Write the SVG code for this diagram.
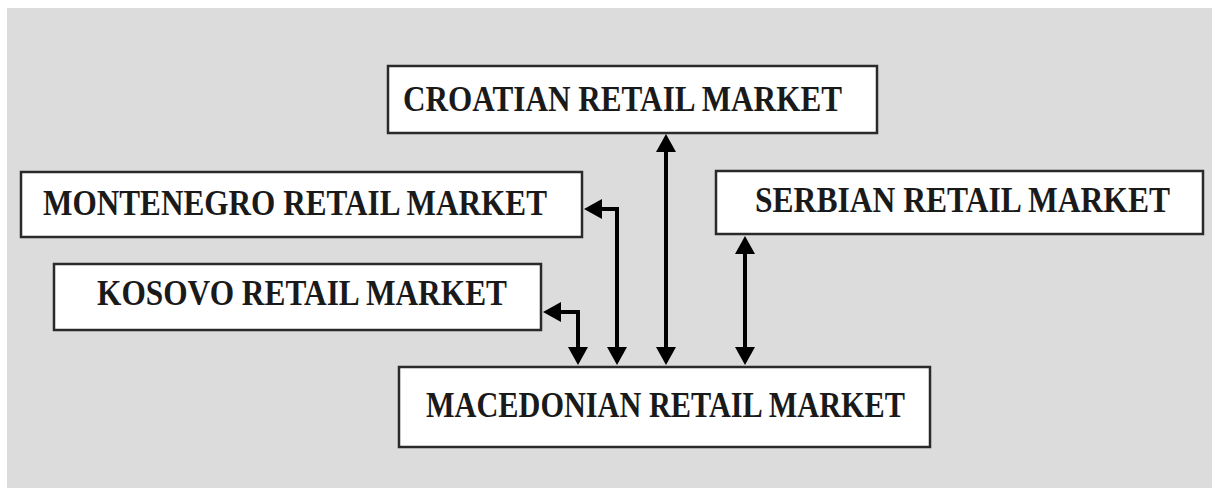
<svg xmlns="http://www.w3.org/2000/svg" width="1212" height="488" viewBox="0 0 1212 488">
  <style>
    .box { fill: #ffffff; stroke: #2a2a2a; stroke-width: 2.5; }
    .lbl { font-family: "Liberation Serif", "Times New Roman", serif; font-weight: bold; font-size: 35px; fill: #1a1a1a; }
    .conn { fill: none; stroke: #000000; stroke-width: 4; }
  </style>
  <defs>
    <marker id="ah" viewBox="0 0 18 20" refX="14" refY="10" markerWidth="18" markerHeight="20" markerUnits="userSpaceOnUse" orient="auto-start-reverse">
      <path d="M0,0 L18,10 L0,20 z" fill="#000000"/>
    </marker>
  </defs>
  <rect x="0" y="0" width="1212" height="488" fill="#ffffff"/>
  <rect x="7" y="8" width="1205" height="480" fill="#dcdcdc"/>

  <g id="croatian">
    <rect class="box" x="388" y="66" width="489" height="67"/>
    <text class="lbl" x="403" y="111" textLength="439" lengthAdjust="spacingAndGlyphs">CROATIAN RETAIL MARKET</text>
  </g>
  <g id="montenegro">
    <rect class="box" x="21" y="172" width="561" height="65"/>
    <text class="lbl" x="43" y="215" textLength="504" lengthAdjust="spacingAndGlyphs">MONTENEGRO RETAIL MARKET</text>
  </g>
  <g id="serbian">
    <rect class="box" x="716" y="171" width="487" height="63"/>
    <text class="lbl" x="755" y="212" textLength="415" lengthAdjust="spacingAndGlyphs">SERBIAN RETAIL MARKET</text>
  </g>
  <g id="kosovo">
    <rect class="box" x="54" y="264" width="487" height="66"/>
    <text class="lbl" x="97" y="305" textLength="410" lengthAdjust="spacingAndGlyphs">KOSOVO RETAIL MARKET</text>
  </g>
  <g id="macedonian">
    <rect class="box" x="399" y="367" width="531" height="80"/>
    <text class="lbl" x="426" y="417" textLength="479" lengthAdjust="spacingAndGlyphs">MACEDONIAN RETAIL MARKET</text>
  </g>

  <g id="connectors">
    <path class="conn" d="M666,138 V361" marker-start="url(#ah)" marker-end="url(#ah)"/>
    <path class="conn" d="M745,240 V361" marker-start="url(#ah)" marker-end="url(#ah)"/>
    <path class="conn" d="M588,209 H617 V361" marker-start="url(#ah)" marker-end="url(#ah)"/>
    <path class="conn" d="M547,312 H578 V361" marker-start="url(#ah)" marker-end="url(#ah)"/>
  </g>
</svg>
